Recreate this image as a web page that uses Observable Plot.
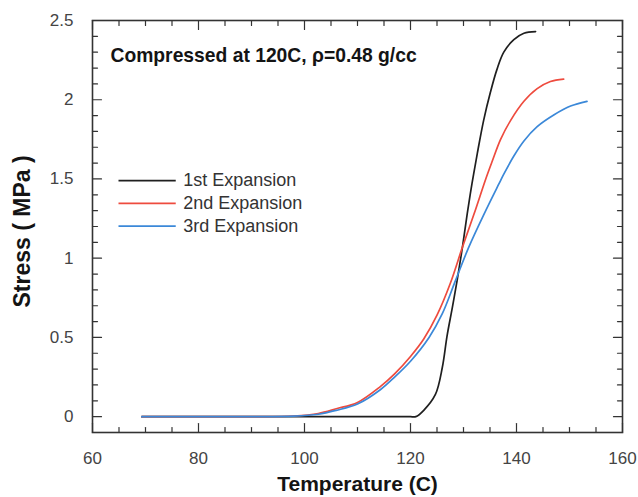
<!DOCTYPE html>
<html>
<head>
<meta charset="utf-8">
<script src="https://cdn.jsdelivr.net/npm/d3@7"></script>
<script src="https://cdn.jsdelivr.net/npm/@observablehq/plot@0.6"></script>
<style>
  html, body { margin: 0; padding: 0; background: #fff; }
  #chart svg { display: block; }
</style>
</head>
<body>
<div id="chart"></div>
<script>
// ---- Data ----
const seriesNames = ["1st Expansion", "2nd Expansion", "3rd Expansion"];
const seriesColors = ["#1f1f1f", "#ee4b3e", "#3b88d8"];

const temp1 = [69.3, 80, 90, 100, 105, 110, 115, 118, 120, 121, 122.5, 124.7, 126, 126.9, 127.9, 128.8, 129.8, 130.7, 131.6, 132.6, 133.8, 135.1, 136.3, 137.6, 139.5, 141.4, 143.6];
const stress1 = [0, 0, 0, 0, 0, 0, 0, 0, 0, 0, 0.04, 0.14, 0.31, 0.51, 0.69, 0.86, 1.07, 1.28, 1.47, 1.66, 1.87, 2.05, 2.19, 2.30, 2.38, 2.42, 2.43];

const temp2 = [69.3, 80, 90, 98, 102.6, 106, 110, 114.3, 117, 120, 122.5, 125, 127.5, 129.8, 132, 134.2, 135.4, 137, 138.9, 141.4, 143.9, 146.4, 148.9];
const stress2 = [0, 0, 0, 0.004, 0.02, 0.05, 0.09, 0.19, 0.27, 0.38, 0.49, 0.64, 0.84, 1.07, 1.28, 1.50, 1.61, 1.75, 1.87, 1.99, 2.07, 2.115, 2.13];

const temp3 = [69.3, 80, 90, 98, 102.6, 106, 110, 114.3, 117, 120, 123.5, 126, 128.5, 131, 133.9, 136.7, 137.6, 139.5, 141.4, 143.9, 147.1, 150.2, 153.3];
const stress3 = [0, 0, 0, 0.003, 0.015, 0.04, 0.08, 0.17, 0.25, 0.35, 0.50, 0.65, 0.86, 1.07, 1.28, 1.47, 1.53, 1.645, 1.74, 1.83, 1.905, 1.96, 1.99];

const xTicks = [60, 80, 100, 120, 140, 160];
const yTicks = [0, 0.5, 1, 1.5, 2, 2.5];
const yTickLabels = ["0", "0.5", "1", "1.5", "2", "2.5"];
const xTitle = "Temperature (C)";
const yTitle = "Stress ( MPa )";
const annotation = "Compressed at 120C, \u03c1=0.48 g/cc";

// ---- Build ----
const temps = [temp1, temp2, temp3];
const stresses = [stress1, stress2, stress3];
const rows = [];
seriesNames.forEach((name, s) => {
  temps[s].forEach((t, i) => rows.push({series: name, color: seriesColors[s], t, v: stresses[s][i]}));
});

const xDomain = [60, 160];
const yDomain = [-0.1, 2.5];
const xMinor = d3.range(65, 160, 5).filter(v => v % 20 !== 0);
const yMinor = d3.range(-1, 25).map(v => v / 10).filter(v => Math.abs(v * 2 - Math.round(v * 2)) > 1e-6);

const tickShape = { draw(context, l) { context.moveTo(0, 0); context.lineTo(0, -l); } };
const tickStyle = { shape: tickShape, anchor: "start", stroke: "#333", strokeWidth: 1.2 };

const legendY0 = 1.49, legendStep = 0.144;
const legendRows = seriesNames.map((n, i) => ({name: n, color: seriesColors[i], y: legendY0 - i * legendStep}));

const chart = Plot.plot({
  width: 638,
  height: 497,
  marginLeft: 92,
  marginRight: 16,
  marginTop: 20,
  marginBottom: 65,
  style: { fontFamily: "'Liberation Sans', Arial, sans-serif", fontSize: "17px", color: "#444", background: "#fff" },
  x: { domain: xDomain },
  y: { domain: yDomain },
  marks: [
    // tick labels
    Plot.axisX({ ticks: xTicks, tickSize: 0, tickPadding: 19, fontSize: 17, label: null }),
    Plot.axisY({ ticks: yTicks, tickFormat: (d) => yTickLabels[yTicks.indexOf(d)], tickSize: 0, tickPadding: 19, fontSize: 17, label: null }),
    // axis titles
    Plot.text([xTitle], { frameAnchor: "bottom", dy: 52, text: d => d, textAnchor: "middle", lineAnchor: "middle", fontSize: 21, fontWeight: "bold", fill: "#141414", style: "letter-spacing:1px" }),
    Plot.text([yTitle], { frameAnchor: "left", dx: -70, dy: 5, rotate: -90, text: d => d, textAnchor: "middle", lineAnchor: "middle", fontSize: 23, fontWeight: "bold", fill: "#141414", style: "letter-spacing:2px" }),
    // inward ticks
    Plot.vector(xTicks, { x: d => d, y: yDomain[0], length: 9, rotate: 0, ...tickStyle }),
    Plot.vector(xMinor, { x: d => d, y: yDomain[0], length: 5, rotate: 0, ...tickStyle }),
    Plot.vector(xTicks, { x: d => d, y: yDomain[1], length: 9, rotate: 180, ...tickStyle }),
    Plot.vector(xMinor, { x: d => d, y: yDomain[1], length: 5, rotate: 180, ...tickStyle }),
    Plot.vector(yTicks, { x: xDomain[0], y: d => d, length: 9, rotate: 90, ...tickStyle }),
    Plot.vector(yMinor, { x: xDomain[0], y: d => d, length: 5, rotate: 90, ...tickStyle }),
    Plot.vector(yTicks, { x: xDomain[1], y: d => d, length: 9, rotate: -90, ...tickStyle }),
    Plot.vector(yMinor, { x: xDomain[1], y: d => d, length: 5, rotate: -90, ...tickStyle }),
    // curves
    Plot.line(rows, { x: "t", y: "v", z: "series", stroke: "color", strokeWidth: 1.7, curve: "catmull-rom" }),
    // legend
    Plot.ruleY(legendRows, { y: "y", x1: 65, x2: 75.8, stroke: "color", strokeWidth: 1.8 }),
    Plot.text(legendRows, { x: 77.1, y: "y", text: "name", textAnchor: "start", fontSize: 18, fill: "#333", style: "letter-spacing:1px" }),
    // annotation
    Plot.text([annotation], { frameAnchor: "top-left", dx: 18, dy: 28, text: d => d, textAnchor: "start", fontSize: 19.3, fontWeight: "bold", fill: "#141414" }),
    // frame
    Plot.frame({ stroke: "#333", strokeWidth: 1.6 })
  ]
});
document.getElementById("chart").appendChild(chart);
</script>
</body>
</html>
